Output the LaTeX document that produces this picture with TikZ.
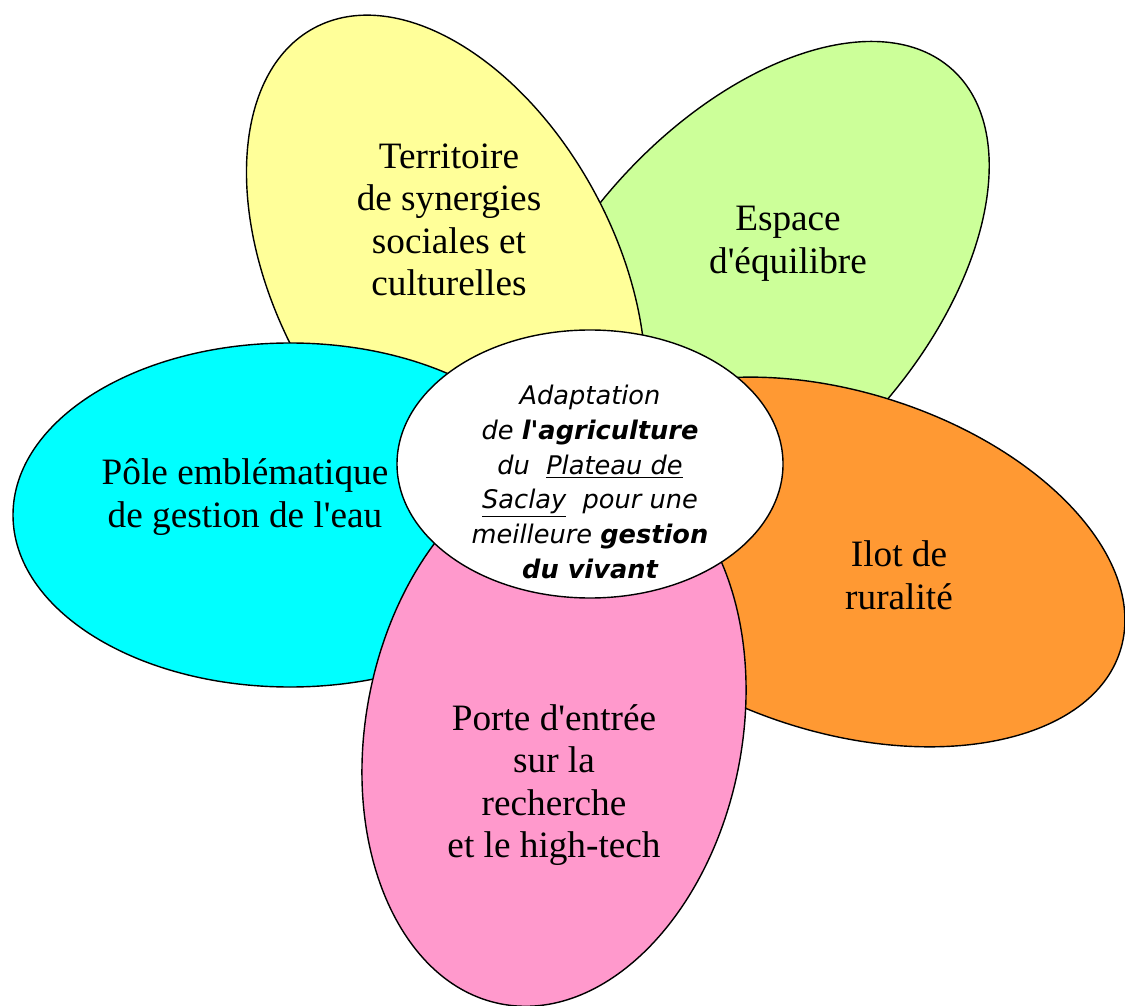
\documentclass[tikz,border=0pt]{standalone}
\usepackage{fontspec}
\setmainfont{Liberation Serif}
\newfontfamily\verd{DejaVu Sans}
\usepackage{tikz}
\definecolor{petyellow}{RGB}{255,255,153}
\definecolor{petgreen}{RGB}{204,255,153}
\definecolor{petcyan}{RGB}{0,255,255}
\definecolor{petorange}{RGB}{255,153,51}
\definecolor{petpink}{RGB}{255,153,204}
\newcommand{\pfont}{\fontsize{21.2}{24.2}\selectfont}
\newcommand{\cfont}{\verd\itshape\fontsize{14.6}{19.8}\selectfont}
\newcommand{\bi}[1]{\textbf{#1}}
\newcommand{\ap}{\textquotesingle}

\begin{document}
\begin{tikzpicture}[x=0.02cm, y=0.02cm,
		petal/.style={draw=black, line width=0.8pt},
		lbl/.style={align=center, inner sep=0pt, font=\pfont}]
	\useasboundingbox (0,0) rectangle (1125,-1006);
	\coordinate (cg) at (748,-296);
	\coordinate (cy) at (446,-275);
	\coordinate (cc) at (290,-515);
	\coordinate (co) at (840,-562);
	\coordinate (cp) at (554,-731);
	\coordinate (cm) at (590,-464);
	\filldraw[petal, fill=petgreen, rotate around={48:(cg)}] (cg) ellipse [x radius=305, y radius=173];
	\filldraw[petal, fill=petyellow, rotate around={28:(cy)}] (cy) ellipse [x radius=170, y radius=280];
	\filldraw[petal, fill=petcyan] (cc) ellipse [x radius=277, y radius=172];
	\filldraw[petal, fill=petorange, rotate around={-17.6:(co)}] (co) ellipse [x radius=294, y radius=170];
	\filldraw[petal, fill=petpink, rotate around={-11:(cp)}] (cp) ellipse [x radius=188, y radius=278];
	\filldraw[petal, fill=white] (cm) ellipse [x radius=193, y radius=134];

	\node[lbl] (terr) at (449,-220) {Territoire\\de synergies\\sociales et\\culturelles};
	\node[lbl] (esp) at (788,-244) {Espace\\d\ap équilibre};
	\node[lbl] (pole) at (245,-497) {Pôle emblématique\\de gestion de l\ap eau};
	\node[lbl] (ilot) at (899,-575) {Ilot de\\ruralité};
	\node[lbl] (porte) at (554,-785) {Porte d\ap entrée\\sur la\\recherche\\et le high-tech};
	\node[lbl, font=\cfont] (adapt) at (590,-482) {Adaptation\\de \bi{l\ap agriculture}\\du~~\underline{Plateau de}\\\underline{Saclay}~~pour une\\meilleure \bi{gestion}\\\bi{du vivant}};
\end{tikzpicture}
\end{document}
